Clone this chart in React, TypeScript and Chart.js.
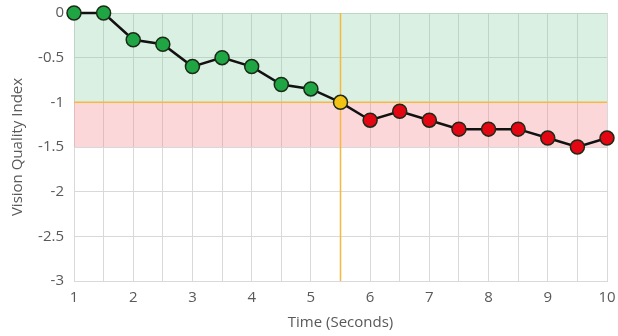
import React, { useEffect, useRef } from "react";
import { Chart, registerables } from "chart.js";

Chart.register(...registerables);

const times = [1, 1.5, 2, 2.5, 3, 3.5, 4, 4.5, 5, 5.5, 6, 6.5, 7, 7.5, 8, 8.5, 9, 9.5, 10];
const qualityIndex = [0, 0, -0.3, -0.35, -0.6, -0.5, -0.6, -0.8, -0.85, -1, -1.2, -1.1, -1.2, -1.3, -1.3, -1.3, -1.4, -1.5, -1.4];
const thresholdY = -1;
const lowerBandY = -1.5;
const crossingX = 5.5;

const GREEN = "#1fa544";
const RED = "#e30613";
const YELLOW = "#f2c314";
const ORANGE = "#f5b940";

const bandsPlugin = {
  id: "bands",
  beforeDatasetsDraw(chart: any) {
    const { ctx, chartArea, scales } = chart;
    const y = scales.y;
    const x = scales.x;
    const y0 = y.getPixelForValue(0);
    const y1 = y.getPixelForValue(thresholdY);
    const y2 = y.getPixelForValue(lowerBandY);
    ctx.save();
    ctx.fillStyle = "rgba(120,200,150,0.28)";
    ctx.fillRect(chartArea.left, y0, chartArea.right - chartArea.left, y1 - y0);
    ctx.fillStyle = "rgba(245,130,140,0.32)";
    ctx.fillRect(chartArea.left, y1, chartArea.right - chartArea.left, y2 - y1);
    ctx.strokeStyle = ORANGE;
    ctx.lineWidth = 1.5;
    ctx.beginPath();
    ctx.moveTo(chartArea.left, y1);
    ctx.lineTo(chartArea.right, y1);
    const xc = x.getPixelForValue(crossingX);
    ctx.moveTo(xc, chartArea.top);
    ctx.lineTo(xc, chartArea.bottom);
    ctx.stroke();
    ctx.restore();
  },
};

export default function App() {
  const ref = useRef<HTMLCanvasElement>(null);
  useEffect(() => {
    document.body.style.margin = "0";
    const data = times.map((t, i) => ({ x: t, y: qualityIndex[i] }));
    const colors = times.map((t, i) =>
      t === crossingX ? YELLOW : qualityIndex[i] > thresholdY ? GREEN : RED
    );
    const font = { family: "'Open Sans', 'Liberation Sans', sans-serif", size: 15 };
    const chart = new Chart(ref.current!, {
      type: "scatter",
      data: {
        datasets: [
          {
            data,
            showLine: true,
            clip: false,
            borderColor: "#111",
            borderWidth: 2.5,
            pointBackgroundColor: colors,
            pointBorderColor: "#1c2a18",
            pointBorderWidth: 1.5,
            pointRadius: 7,
            pointHoverRadius: 7,
          },
        ],
      },
      options: {
        animation: false,
        responsive: false,
        maintainAspectRatio: false,
        layout: { padding: 0 },
        plugins: { legend: { display: false }, tooltip: { enabled: false } },
        scales: {
          x: {
            type: "linear",
            min: 1,
            max: 10,
            ticks: {
              stepSize: 0.5,
              color: "#595959",
              font,
              padding: 8,
              maxRotation: 0,
              autoSkip: false,
              callback: (v: any) => (Number.isInteger(v) ? String(v) : ""),
            },
            grid: { color: "#d9d9d9", drawTicks: false },
            border: { color: "#d9d9d9" },
            title: {
              display: true,
              text: "Time (Seconds)",
              color: "#595959",
              font,
              padding: { top: 4, bottom: 4 },
            },
            afterFit: (s: any) => {
              s.height = 55;
              s.paddingLeft = 0;
              s.paddingRight = 11;
            },
          },
          y: {
            type: "linear",
            min: -3,
            max: 0,
            ticks: {
              stepSize: 0.5,
              color: "#595959",
              font,
              padding: 10,
              callback: (v: any) => String(v),
            },
            grid: { color: "#d9d9d9", drawTicks: false },
            border: { display: false },
            title: {
              display: true,
              text: "Vision Quality Index",
              color: "#595959",
              font,
              padding: { top: 9, bottom: 4 },
            },
            afterFit: (s: any) => {
              s.width = 74;
              s.paddingTop = 13;
              s.paddingBottom = 0;
            },
          },
        },
      },
      plugins: [bandsPlugin],
    });
    return () => chart.destroy();
  }, []);
  return <canvas ref={ref} width={618} height={336} style={{ display: "block" }} />;
}
